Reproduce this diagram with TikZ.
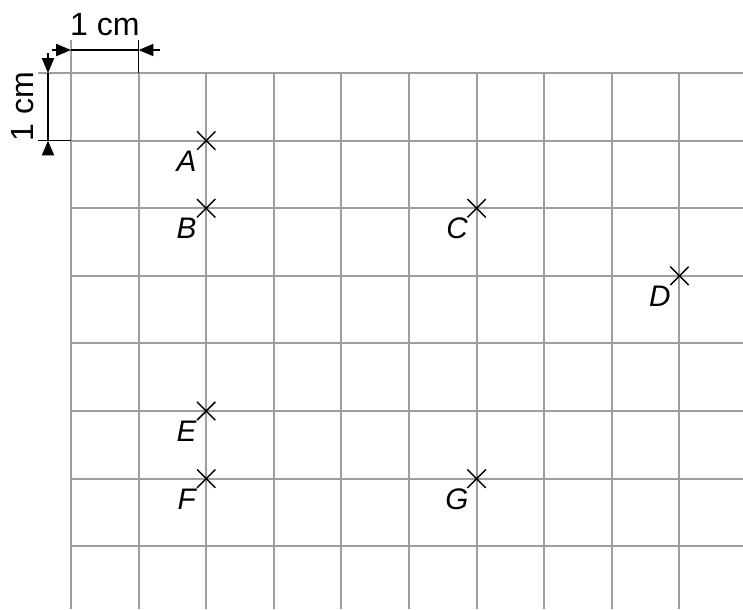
\documentclass[tikz,border=0pt]{standalone}
\usepackage{fontspec}
\setmainfont{Liberation Sans}
\usepackage{tikz}
\usetikzlibrary{arrows.meta,shapes.misc}

\begin{document}
\begin{tikzpicture}[>={Triangle[length=2.2mm,width=1.8mm]},line join=round,
  font=\fontsize{13.5}{15}\selectfont,
  gridline/.style={draw=black!38,line width=.85pt},
  dimline/.style={draw=black,line width=.6pt},
  cross/.style={cross out,draw=black,line width=.6pt,inner sep=0pt,minimum size=.25cm},
  lbl/.style={font=\fontsize{12.5}{14}\selectfont\itshape,inner sep=0pt}]
  \path[use as bounding box] (-1.05,1.08) rectangle (9.94,-7.93);
  \fill[white] (-1.05,1.08) rectangle (9.94,-7.93);
  % grid of 1 cm squares
  \foreach \i in {0,...,9}
    \draw[gridline] (\i,0)--(\i,-7.93);
  \foreach \j in {0,...,7}
    \draw[gridline] (0,-\j)--(9.94,-\j);
  % horizontal dimension
  \coordinate (hl) at (-.28,.34);
  \coordinate (ha) at (0,.34);
  \coordinate (hb) at (1,.34);
  \coordinate (hr) at (1.32,.34);
  \draw[gridline] (0,.49)--(0,0);
  \draw[dimline] (1,.49)--(1,0);
  \draw[dimline,->] (hl)--(ha);
  \draw[dimline] (ha)--(hb);
  \draw[dimline,->] (hr)--(hb);
  \node (hlabel) at (.5,.71) {1 cm};
  % vertical dimension
  \coordinate (vt) at (-.34,.3);
  \coordinate (va) at (-.34,0);
  \coordinate (vb) at (-.34,-1);
  \coordinate (vu) at (-.34,-1.18);
  \draw[gridline] (-.49,0)--(0,0);
  \draw[dimline] (-.49,-1)--(0,-1);
  \draw[dimline,->] (vt)--(va);
  \draw[dimline] (va)--(vb);
  \draw[dimline,->] (vu)--(vb);
  \node[rotate=90] (vlabel) at (-.72,-.5) {1 cm};
  % marked points
  \foreach \n/\x/\y in {A/2/1,B/2/2,C/6/2,D/9/3,E/2/5,F/2/6,G/6/6}{
    \node[cross] (\n) at (\x,-\y) {};
    \node[lbl] (l\n) at ([shift={(-.29,-.3)}]\n) {\n};
  }
\end{tikzpicture}
\end{document}
